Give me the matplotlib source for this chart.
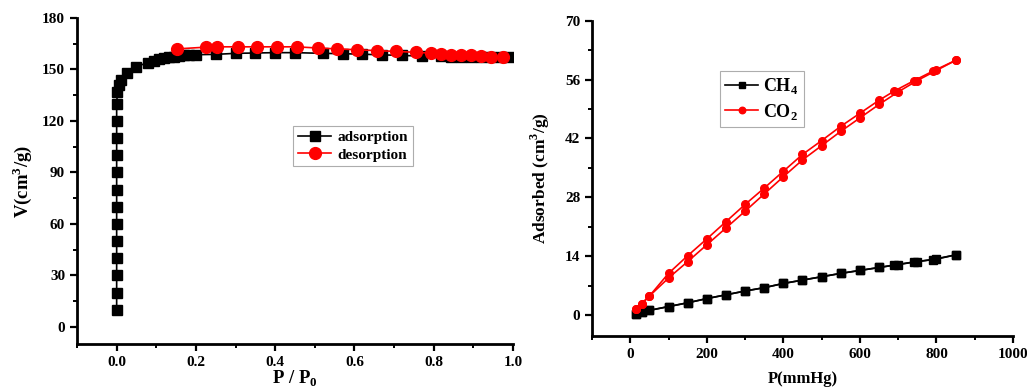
import numpy as np
import matplotlib
matplotlib.use('Agg')
import matplotlib.pyplot as plt
from matplotlib.ticker import MultipleLocator

plt.rcParams['font.family'] = ['Liberation Serif', 'DejaVu Serif']
plt.rcParams['font.weight'] = 'bold'
plt.rcParams['mathtext.fontset'] = 'custom'
plt.rcParams['mathtext.rm'] = 'Liberation Serif:bold'
plt.rcParams['mathtext.bf'] = 'Liberation Serif:bold'

# N2 isotherm (left)
ads_p = [0.0, 0.0, 0.0, 0.0, 0.0, 0.0, 0.0, 0.0, 0.0, 0.0, 0.0, 0.0, 0.0,
         0.002, 0.006, 0.01, 0.027, 0.048, 0.078, 0.093, 0.107, 0.119, 0.132,
         0.145, 0.157, 0.170, 0.183, 0.20, 0.25, 0.30, 0.35, 0.40, 0.45, 0.52,
         0.57, 0.62, 0.67, 0.72, 0.77, 0.818, 0.843, 0.869, 0.894, 0.919, 0.944,
         0.97, 0.99]
ads_v = [10, 20, 30, 40, 50, 60, 70, 80, 90, 100, 110, 120, 130,
         137, 141, 143.9, 148.1, 151.6, 153.9, 155.1, 155.9, 156.5, 157.1,
         157.4, 157.8, 158.2, 158.4, 158.6, 158.8, 159.4, 159.6, 159.8, 159.8, 159.4,
         159.2, 158.9, 158.5, 158.2, 157.8, 157.6, 157.5, 157.5, 157.4, 157.3, 157.3,
         157.2, 157.2]
des_p = [0.974, 0.944, 0.919, 0.894, 0.869, 0.843, 0.818, 0.793, 0.755, 0.706,
         0.656, 0.606, 0.556, 0.507, 0.454, 0.404, 0.355, 0.305, 0.254, 0.225, 0.153]
des_v = [157.3, 157.5, 158.0, 158.3, 158.5, 158.7, 159.0, 159.5, 160.0, 160.5,
         161.0, 161.5, 162.0, 162.5, 163.2, 163.2, 163.2, 163.2, 163.2, 163.0, 162.0]

# CH4 / CO2 uptake (right)
gas_p_ads = [15, 30, 50, 100, 150, 200, 250, 300, 350, 400, 450, 500, 550, 600,
             650, 700, 750, 800, 850]
gas_p_des = [850, 790, 740, 690, 650, 600, 550, 500, 450, 400, 350, 300, 250,
             200, 150, 100, 50, 30, 15]
ch4_ads = [0.2, 0.6, 1.1, 2.0, 2.9, 3.9, 4.8, 5.7, 6.5, 7.5, 8.3, 9.1, 9.9, 10.6,
           11.3, 12.0, 12.7, 13.3, 14.3]
ch4_des = [14.3, 13.2, 12.6, 11.9, 11.3, 10.6, 9.9, 9.1, 8.3, 7.5, 6.5, 5.7, 4.8,
           3.9, 2.9, 2.0, 1.1, 0.6, 0.2]
co2_ads = [1.4, 2.7, 4.5, 8.8, 12.7, 16.7, 20.7, 24.7, 28.8, 32.9, 36.9, 40.3,
           43.7, 46.9, 50.1, 53.1, 55.8, 58.2, 60.6]
co2_des = [60.6, 58.0, 55.7, 53.3, 51.1, 48.0, 44.9, 41.5, 38.2, 34.2, 30.2, 26.3,
           22.2, 18.1, 14.1, 9.9, 4.5, 2.7, 1.4]

fig = plt.figure(figsize=(10.27, 3.91), dpi=100)
ax1 = fig.add_axes([0.075, 0.120, 0.4245, 0.834])
ax2 = fig.add_axes([0.5764, 0.1407, 0.41, 0.806])

for ax in (ax1, ax2):
    ax.spines['top'].set_visible(False)
    ax.spines['right'].set_visible(False)
    ax.spines['left'].set_linewidth(2)
    ax.spines['bottom'].set_linewidth(2)
    ax.tick_params(which='major', direction='out', length=5, width=1.6, labelsize=11)
    ax.tick_params(which='minor', direction='out', length=3, width=1.4)

ax1.plot(ads_p, ads_v, '-s', color='black', lw=1.2, ms=7, label='adsorption')
ax1.plot(des_p, des_v, '-o', color='red', mec='red', lw=1.2, ms=8.5, label='desorption')
ax1.set_xlim(-0.1, 1.0)
ax1.set_ylim(-10, 180)
ax1.xaxis.set_minor_locator(MultipleLocator(0.1))
ax1.yaxis.set_major_locator(MultipleLocator(30))
ax1.yaxis.set_minor_locator(MultipleLocator(15))
ax1.set_xticks([0, 0.2, 0.4, 0.6, 0.8, 1.0])
ax1.set_xticklabels(['0.0', '0.2', '0.4', '0.6', '0.8', '1.0'])
ax1.set_xlabel(r'P / P$_\mathbf{0}$', fontsize=13.5, fontweight='bold', labelpad=0)
ax1.set_ylabel(r'V(cm$^\mathbf{3}$/g)', fontsize=13.5, fontweight='bold', labelpad=6)
leg1 = ax1.legend(loc='upper left', bbox_to_anchor=(0.496, 0.669), fontsize=11,
                  frameon=True, fancybox=False, edgecolor='#999999', borderaxespad=0,
                  handlelength=2.2, borderpad=0.3, labelspacing=0.25, handletextpad=0.4)
leg1.get_frame().set_linewidth(0.8)

ax2.plot(gas_p_ads, ch4_ads, '-s', color='black', lw=1.2, ms=5.5, label=r'CH$_\mathbf{4}$')
ax2.plot(gas_p_des, ch4_des, '-s', color='black', lw=1.2, ms=5.5)
ax2.plot(gas_p_ads, co2_ads, '-o', color='red', lw=1.2, ms=5.5, label=r'CO$_\mathbf{2}$')
ax2.plot(gas_p_des, co2_des, '-o', color='red', lw=1.2, ms=5.5)
ax2.set_xlim(-100, 1000)
ax2.set_ylim(-5, 70)
ax2.set_xticks([0, 200, 400, 600, 800, 1000])
ax2.xaxis.set_minor_locator(MultipleLocator(100))
ax2.set_yticks([0, 14, 28, 42, 56, 70])
ax2.yaxis.set_minor_locator(MultipleLocator(7))
ax2.set_xlabel('P(mmHg)', fontsize=12, fontweight='bold', labelpad=7)
ax2.set_ylabel(r'Adsorbed (cm$^\mathbf{3}$/g)', fontsize=12.5, fontweight='bold', labelpad=9)
leg2 = ax2.legend(loc='upper left', bbox_to_anchor=(0.304, 0.841), fontsize=13,
                  frameon=True, fancybox=False, edgecolor='#999999', borderaxespad=0,
                  handlelength=1.8, borderpad=0.3, labelspacing=0.3, handletextpad=0.3,
                  markerscale=0.85)
leg2.get_frame().set_linewidth(0.8)

for ax in (ax1, ax2):
    for lab in ax.get_xticklabels() + ax.get_yticklabels():
        lab.set_fontweight('bold')

fig.savefig('out.png', dpi=100)
